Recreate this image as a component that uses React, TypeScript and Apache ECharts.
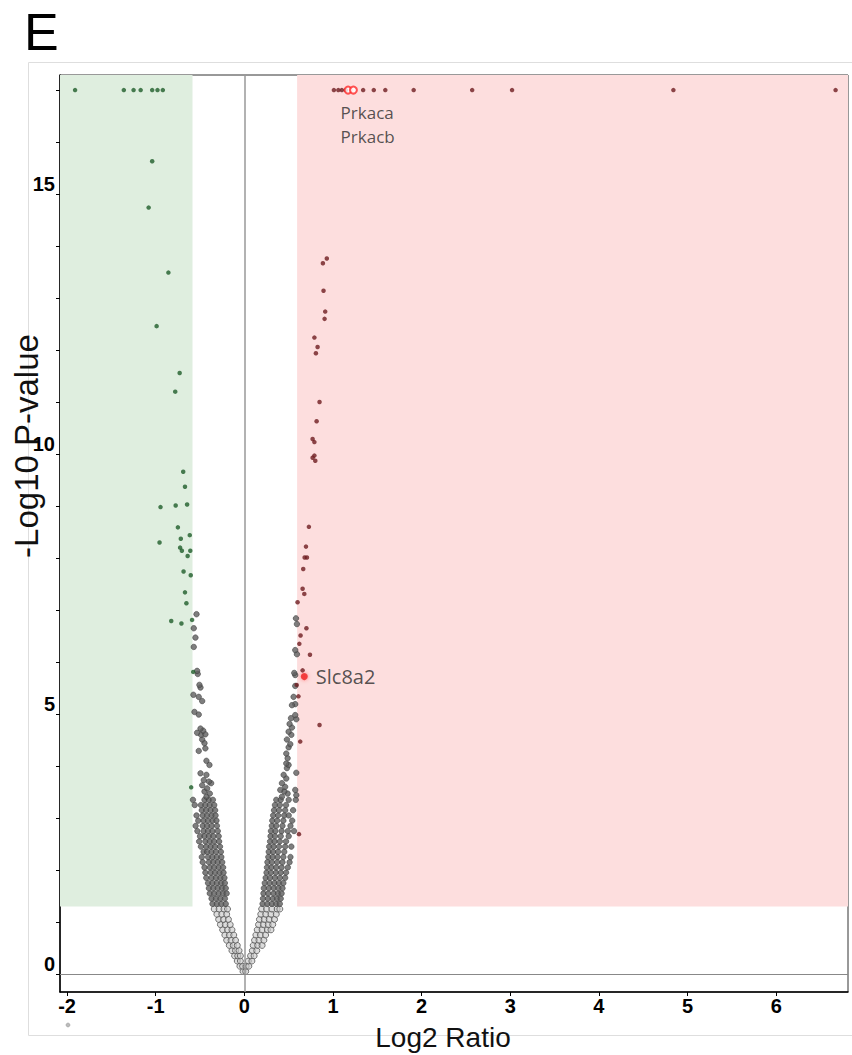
import React, { useEffect, useRef } from "react";
import * as echarts from "echarts";

// Axis ranges and thresholds
const X_MIN = -2.08;
const X_MAX = 6.81;
const Y_MIN = -0.346;
const Y_MAX = 17.29;
const FC_LEFT = -0.585;
const FC_RIGHT = 0.595;
const P_THRESH = 1.3;

const xTickValues = [-2, -1, 0, 1, 2, 3, 4, 5, 6];
const yLabelValues = [0, 5, 10, 15];
const yTickValues = [0, 1, 2, 3, 4, 5, 6, 7, 8, 9, 10, 11, 12, 13, 14, 15, 16, 17];

// Down-regulated significant (green)
const greenPoints: number[][] = [
  [-1.91, 17.0], [-1.36, 17.0], [-1.25, 17.0], [-1.17, 17.0], [-1.04, 17.0], [-0.98, 17.0], [-0.92, 17.0],
  [-1.04, 15.63], [-1.08, 14.74], [-0.857, 13.49], [-0.99, 12.46], [-0.73, 11.56], [-0.78, 11.2],
  [-0.69, 9.66], [-0.67, 9.37], [-0.946, 8.98], [-0.775, 9.01], [-0.646, 9.03], [-0.75, 8.59],
  [-0.957, 8.3], [-0.717, 8.37], [-0.616, 8.44], [-0.725, 8.2], [-0.705, 8.14], [-0.61, 8.14],
  [-0.64, 8.04], [-0.686, 7.74], [-0.605, 7.67], [-0.67, 7.34], [-0.654, 7.13], [-0.825, 6.79],
  [-0.71, 6.74], [-0.59, 6.81], [-0.577, 5.81], [-0.6, 3.59],
];

// Up-regulated significant (red)
const redPoints: number[][] = [
  [1.01, 17.0], [1.06, 17.0], [1.1, 17.0], [1.145, 17.0], [1.34, 17.0], [1.46, 17.0], [1.59, 17.0],
  [1.91, 17.0], [2.57, 17.0], [3.02, 17.0], [4.84, 17.0], [6.67, 17.0],
  [0.93, 13.76], [0.886, 13.67], [0.893, 13.14], [0.912, 12.74], [0.905, 12.6], [0.79, 12.24],
  [0.826, 12.06], [0.807, 11.94], [0.848, 11.0], [0.815, 10.63], [0.77, 10.29], [0.79, 10.23],
  [0.79, 9.97], [0.77, 9.93], [0.8, 9.87], [0.728, 8.6], [0.695, 8.22], [0.68, 8.01], [0.706, 8.01],
  [0.664, 7.79], [0.657, 7.41], [0.676, 7.31], [0.6, 7.15], [0.7, 6.65], [0.634, 6.51], [0.62, 6.35],
  [0.74, 6.14], [0.657, 5.84], [0.59, 5.56], [0.61, 5.34], [0.848, 4.79], [0.63, 4.47], [0.616, 2.69],
];

// Highlighted genes
const highlightNames = ["Prkaca", "Prkacb", "Slc8a2"];
const highlightPoints: number[][] = [[1.17, 17.0], [1.23, 17.0], [0.676, 5.72]];

// Non-significant, lower part (row y, x values)
const grayLowRows: [number, number[]][] = [
  [0.05, [-0.015, 0.015]],
  [0.15, [-0.05, -0.02, 0.02, 0.05]],
  [0.25, [-0.08, -0.045, 0.045, 0.085]],
  [0.35, [-0.11, -0.075, -0.045, 0.07, 0.11]],
  [0.45, [-0.14, -0.1, -0.06, 0.09, 0.14]],
  [0.55, [-0.17, -0.125, -0.08, 0.1, 0.15, 0.2]],
  [0.65, [-0.2, -0.15, -0.1, 0.115, 0.165, 0.22]],
  [0.75, [-0.22, -0.17, -0.12, 0.13, 0.18, 0.24]],
  [0.85, [-0.245, -0.19, -0.14, 0.145, 0.2, 0.26, 0.3]],
  [0.95, [-0.27, -0.215, -0.16, 0.16, 0.215, 0.27, 0.32]],
  [1.05, [-0.29, -0.235, -0.18, 0.17, 0.225, 0.28, 0.34]],
  [1.15, [-0.31, -0.255, -0.2, 0.185, 0.24, 0.3, 0.36]],
  [1.25, [-0.34, -0.285, -0.23, -0.19, 0.195, 0.25, 0.31, 0.37, 0.4]],
];

// Non-significant, dense upper part (row y, x values)
const grayHighRows: [number, number[]][] = [
  [1.35, [-0.36, -0.31, -0.26, -0.21, 0.205, 0.26, 0.31, 0.36, 0.4]],
  [1.45, [-0.37, -0.32, -0.27, -0.22, 0.21, 0.265, 0.32, 0.37, 0.41]],
  [1.55, [-0.39, -0.34, -0.29, -0.24, -0.2, 0.215, 0.27, 0.33, 0.38, 0.42]],
  [1.65, [-0.4, -0.35, -0.3, -0.25, -0.21, 0.22, 0.275, 0.33, 0.385, 0.43]],
  [1.75, [-0.41, -0.36, -0.31, -0.26, -0.22, 0.23, 0.285, 0.34, 0.39, 0.44]],
  [1.85, [-0.43, -0.37, -0.32, -0.27, -0.225, 0.24, 0.29, 0.345, 0.4, 0.46]],
  [1.95, [-0.44, -0.38, -0.33, -0.28, -0.235, 0.25, 0.3, 0.355, 0.41, 0.47]],
  [2.05, [-0.45, -0.39, -0.34, -0.29, -0.24, 0.255, 0.305, 0.36, 0.42, 0.49]],
  [2.15, [-0.47, -0.4, -0.35, -0.3, -0.25, 0.26, 0.31, 0.37, 0.43, 0.51]],
  [2.25, [-0.48, -0.41, -0.36, -0.31, -0.26, 0.27, 0.32, 0.375, 0.44, 0.52]],
  [2.35, [-0.46, -0.42, -0.37, -0.32, -0.265, 0.275, 0.325, 0.38, 0.45]],
  [2.45, [-0.49, -0.43, -0.38, -0.33, -0.275, 0.28, 0.33, 0.39, 0.46, 0.53]],
  [2.55, [-0.51, -0.44, -0.39, -0.34, -0.285, 0.29, 0.34, 0.4, 0.47]],
  [2.65, [-0.5, -0.45, -0.4, -0.35, -0.29, 0.295, 0.345, 0.41, 0.5]],
  [2.75, [-0.53, -0.46, -0.41, -0.36, -0.3, 0.3, 0.35, 0.42, 0.49, 0.56]],
  [2.85, [-0.55, -0.47, -0.42, -0.37, -0.31, 0.31, 0.36, 0.43, 0.52]],
  [2.95, [-0.52, -0.46, -0.41, -0.36, -0.315, 0.315, 0.37, 0.44, 0.54]],
  [3.05, [-0.54, -0.47, -0.42, -0.37, -0.325, 0.325, 0.38, 0.45, 0.5]],
  [3.15, [-0.48, -0.43, -0.38, -0.33, 0.335, 0.39, 0.46, 0.55]],
  [3.25, [-0.56, -0.49, -0.44, -0.39, -0.34, 0.345, 0.4, 0.47]],
  [3.35, [-0.58, -0.45, -0.4, -0.355, 0.36, 0.41, 0.5, 0.58]],
];

// Non-significant scattered points above the dense band
const grayScatter: number[][] = [
  [-0.428, 3.41], [-0.39, 3.47], [-0.45, 3.51], [-0.42, 3.57], [-0.476, 3.63], [-0.375, 3.67],
  [-0.4, 3.7], [-0.458, 3.73], [-0.428, 3.83], [-0.495, 3.86], [-0.394, 4.02], [-0.428, 4.1],
  [-0.515, 4.29], [-0.44, 4.34], [-0.45, 4.44], [-0.476, 4.51], [-0.488, 4.6], [-0.44, 4.61],
  [-0.533, 4.64], [-0.465, 4.68], [-0.495, 4.72], [-0.515, 4.99], [-0.563, 5.04], [-0.476, 5.25],
  [-0.515, 5.33], [-0.575, 5.37], [-0.495, 5.51], [-0.507, 5.56], [-0.526, 5.77], [-0.533, 5.83],
  [-0.571, 6.29], [-0.552, 6.47], [-0.571, 6.65], [-0.54, 6.92],
  [0.424, 3.41], [0.586, 3.44], [0.488, 3.47], [0.45, 3.51], [0.405, 3.54], [0.574, 3.54],
  [0.46, 3.6], [0.424, 3.67], [0.473, 3.76], [0.443, 3.83], [0.586, 3.87], [0.48, 3.96],
  [0.499, 4.02], [0.473, 4.05], [0.488, 4.15], [0.473, 4.24], [0.499, 4.36], [0.518, 4.42],
  [0.48, 4.51], [0.53, 4.6], [0.499, 4.66], [0.537, 4.74], [0.51, 4.81], [0.586, 4.9],
  [0.526, 4.92], [0.574, 4.98], [0.574, 5.19], [0.537, 5.17], [0.555, 5.33], [0.574, 5.54],
  [0.574, 5.75], [0.563, 5.79], [0.593, 6.15], [0.574, 6.23], [0.593, 6.73], [0.582, 6.84],
];

const rowsToPoints = (rows: [number, number[]][]) =>
  rows.flatMap(([y, xs]) => xs.map((x) => [x, y]));

const SANS = "'Liberation Sans', Arial, sans-serif";
const LABEL_FONT = "'Open Sans', 'Noto Sans', sans-serif";

export default function App() {
  const ref = useRef<HTMLDivElement>(null);

  useEffect(() => {
    if (!ref.current) return;
    const chart = echarts.init(ref.current, null, { renderer: "svg" });

    const geneLabel = {
      show: true,
      fontFamily: LABEL_FONT,
      fontSize: 17,
      lineHeight: 18,
      color: "#2a2a2a",
    };

    const option = {
      animation: false,
      backgroundColor: "#ffffff",
      grid: {
        left: 60,
        top: 75,
        width: 788,
        height: 917,
        show: true,
        borderColor: "#333",
        borderWidth: 1,
        backgroundColor: "transparent",
      },
      xAxis: {
        type: "value",
        min: X_MIN,
        max: X_MAX,
        axisLine: { show: true, onZero: false, lineStyle: { color: "#000", width: 1.5 } },
        axisTick: { show: true, customValues: xTickValues, length: 4, lineStyle: { color: "#000" } },
        axisLabel: {
          customValues: xTickValues,
          color: "#000",
          fontWeight: "bold",
          fontSize: 20,
          fontFamily: SANS,
          margin: 4,
        },
        splitLine: { show: false },
      },
      yAxis: {
        type: "value",
        min: Y_MIN,
        max: Y_MAX,
        axisLine: { show: true, onZero: false, lineStyle: { color: "#000", width: 1.5 } },
        axisTick: { show: true, customValues: yTickValues, length: 4, lineStyle: { color: "#000" } },
        axisLabel: {
          customValues: yLabelValues,
          color: "#000",
          fontWeight: "bold",
          fontSize: 20,
          fontFamily: SANS,
          margin: 5,
          verticalAlign: "bottom",
        },
        splitLine: { show: false },
      },
      graphic: [
        {
          type: "rect",
          z: -10,
          shape: { x: 28.5, y: 62.5, width: 840, height: 973 },
          style: { fill: "none", stroke: "#dedede", lineWidth: 1 },
        },
        {
          type: "text",
          x: 24,
          y: 6,
          style: { text: "E", fontSize: 52, fontFamily: SANS, fill: "#000" },
        },
        {
          type: "text",
          x: 443,
          y: 1037,
          style: {
            text: "Log2 Ratio",
            fontSize: 28,
            fontFamily: SANS,
            fill: "#111",
            align: "center",
            verticalAlign: "middle",
          },
        },
        {
          type: "text",
          x: 26,
          y: 446,
          rotation: Math.PI / 2,
          style: {
            text: "-Log10 P-value",
            fontSize: 33,
            fontFamily: SANS,
            fill: "#111",
            align: "center",
            verticalAlign: "middle",
          },
        },
        {
          type: "circle",
          shape: { cx: 68, cy: 1025, r: 2 },
          style: { fill: "#bbb", stroke: "#999", lineWidth: 0.5 },
        },
      ],
      series: [
        {
          type: "scatter",
          z: 1,
          silent: true,
          data: [],
          markArea: {
            silent: true,
            data: [
              [
                { xAxis: X_MIN, yAxis: P_THRESH, itemStyle: { color: "#dfeedf" } },
                { xAxis: FC_LEFT, yAxis: Y_MAX },
              ],
              [
                { xAxis: FC_RIGHT, yAxis: P_THRESH, itemStyle: { color: "#fddede" } },
                { xAxis: X_MAX, yAxis: Y_MAX },
              ],
            ],
          },
          markLine: {
            silent: true,
            symbol: "none",
            label: { show: false },
            lineStyle: { color: "#999", width: 1.5, type: "solid" },
            data: [{ xAxis: 0 }, { yAxis: 0, lineStyle: { color: "#888", width: 1 } }],
          },
        },
        {
          type: "scatter",
          z: 2,
          symbolSize: 6,
          itemStyle: { color: "rgba(200,200,200,0.8)", borderColor: "#555", borderWidth: 1 },
          data: rowsToPoints(grayLowRows),
        },
        {
          type: "scatter",
          z: 3,
          symbolSize: 5.5,
          itemStyle: { color: "#5e5e5e", borderColor: "#3c3c3c", borderWidth: 0.7 },
          data: rowsToPoints(grayHighRows).concat(grayScatter),
        },
        {
          type: "scatter",
          z: 4,
          symbolSize: 4.5,
          itemStyle: { color: "#1e5d29" },
          data: greenPoints,
        },
        {
          type: "scatter",
          z: 4,
          symbolSize: 4.5,
          itemStyle: { color: "#6e1c1f" },
          data: redPoints,
        },
        {
          type: "scatter",
          z: 5,
          data: [
            {
              name: highlightNames[0],
              value: highlightPoints[0],
              symbol: "emptyCircle",
              symbolSize: 7,
              itemStyle: { color: "#ff2a2a", borderColor: "#ff2a2a", borderWidth: 1.5 },
              label: {
                ...geneLabel,
                position: "bottom",
                align: "left",
                distance: 9,
                offset: [-7.5, 0],
                formatter: highlightNames[0],
              },
            },
            {
              name: highlightNames[1],
              value: highlightPoints[1],
              symbol: "emptyCircle",
              symbolSize: 7,
              itemStyle: { color: "#ff2a2a", borderColor: "#ff2a2a", borderWidth: 1.5 },
              label: {
                ...geneLabel,
                position: "bottom",
                align: "left",
                distance: 33,
                offset: [-12.8, 0],
                formatter: highlightNames[1],
              },
            },
            {
              name: highlightNames[2],
              value: highlightPoints[2],
              symbol: "circle",
              symbolSize: 7,
              itemStyle: { color: "#f02020", shadowBlur: 4, shadowColor: "rgba(255,0,0,0.5)" },
              label: {
                ...geneLabel,
                position: "right",
                distance: 8,
                fontSize: 20,
                lineHeight: 22,
                formatter: highlightNames[2],
              },
            },
          ],
        },
      ],
    };

    chart.setOption(option as any);
    return () => chart.dispose();
  }, []);

  return (
    <div
      ref={ref}
      style={{ position: "absolute", left: 0, top: 0, width: 852, height: 1055 }}
    />
  );
}
